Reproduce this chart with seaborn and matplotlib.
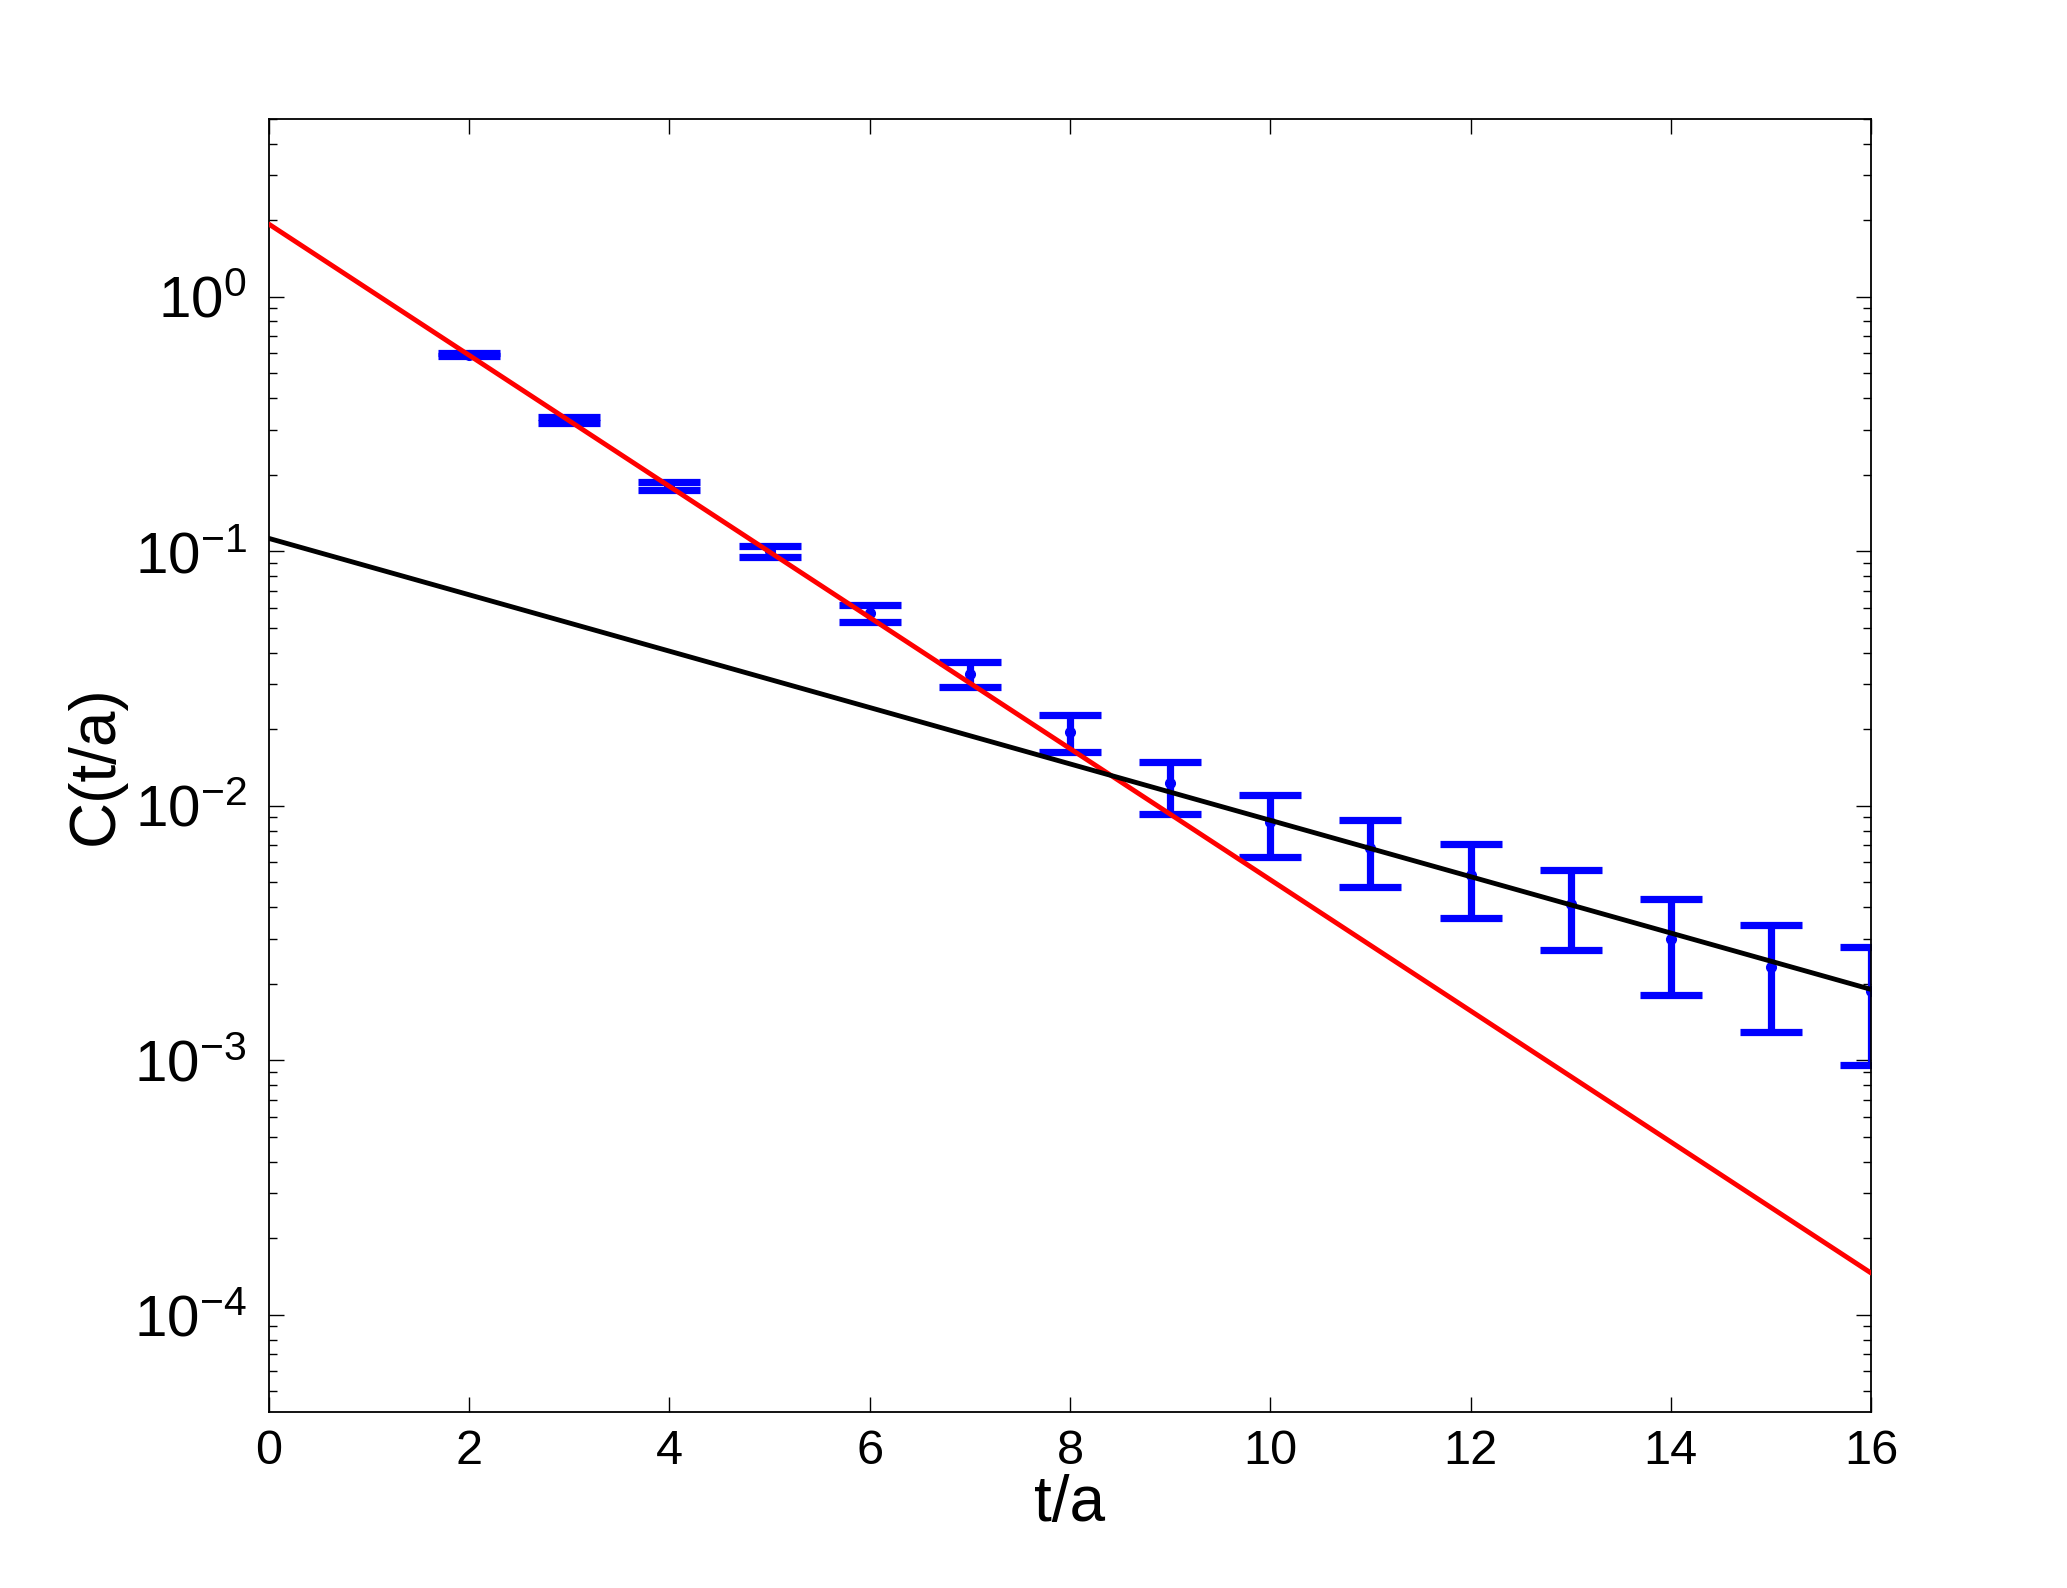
import matplotlib
matplotlib.use("Agg")
import matplotlib.pyplot as plt
import matplotlib.ticker as mticker
import numpy as np
import pandas as pd
import seaborn as sns

# correlator data
t_vals = [2, 3, 4, 5, 6, 7, 8, 9, 10, 11, 12, 13, 14, 15, 16]
c_vals = [0.592, 0.328, 0.180, 0.1004, 0.0573, 0.0331, 0.01953, 0.01225,
          0.00865, 0.0068, 0.00534, 0.00413, 0.00301, 0.00233, 0.001875]
c_upper = [0.600, 0.336, 0.1865, 0.1048, 0.0613, 0.0366, 0.0227, 0.01489,
           0.01102, 0.0088, 0.00705, 0.00562, 0.0043, 0.0034, 0.00279]
c_lower = [0.584, 0.320, 0.1735, 0.0949, 0.0527, 0.0292, 0.0163, 0.00933,
           0.0063, 0.00481, 0.00361, 0.00271, 0.0018, 0.00129, 0.000958]

# fit lines (end points)
fit_t = [0, 16]
red_fit = [1.93, 1.46e-4]
black_fit = [0.1124, 1.90e-3]

dataDF = pd.DataFrame({'t': t_vals, 'C': c_vals, 'up': c_upper, 'lo': c_lower})
fitDF = pd.DataFrame({'t': fit_t, 'red': red_fit, 'black': black_fit})

sns.set_theme(style="ticks")
plt.rcParams['font.family'] = ['Liberation Sans', 'DejaVu Sans']
plt.rcParams['mathtext.fontset'] = 'custom'
plt.rcParams['mathtext.rm'] = 'Liberation Sans'
plt.rcParams['mathtext.it'] = 'Liberation Sans:italic'
plt.rcParams['text.color'] = 'black'
plt.rcParams['axes.labelcolor'] = 'black'

fig = plt.figure(figsize=(20.67, 15.88), dpi=100)
ax = fig.add_axes([0.1301, 0.1108, 0.7751, 0.8143])

yerr = [dataDF['C'] - dataDF['lo'], dataDF['up'] - dataDF['C']]
ax.errorbar(dataDF['t'], dataDF['C'], yerr=yerr, fmt='.', color=(0, 0, 1),
            ms=14, elinewidth=5.2, capsize=22.3, capthick=5.2, zorder=2)

sns.lineplot(data=fitDF, x='t', y='red', color=(1, 0, 0), linewidth=3.5, ax=ax, zorder=3)
sns.lineplot(data=fitDF, x='t', y='black', color='black', linewidth=3.5, ax=ax, zorder=4)

ax.set_yscale('log')
ax.set_xlim(0, 16)
ax.set_ylim(4.15e-5, 5)
ax.set_xticks(range(0, 17, 2))
ax.xaxis.set_minor_locator(mticker.NullLocator())
ax.yaxis.set_major_locator(mticker.LogLocator(base=10, numticks=20))
ax.yaxis.set_minor_locator(mticker.LogLocator(base=10, subs=np.arange(2, 10), numticks=20))

ax.set_xlabel("t/a", fontsize=46, labelpad=0)
ax.set_ylabel("C(t/a)", fontsize=46, labelpad=6)

ax.tick_params(axis='both', which='both', direction='in', top=True, right=True,
               labelsize=35, colors='black')
ax.tick_params(axis='y', which='major', labelsize=42)
ax.tick_params(axis='both', which='major', length=11, width=1.0)
ax.tick_params(axis='y', which='minor', length=5.5, width=1.0)
ax.tick_params(axis='x', which='major', pad=12)
ax.tick_params(axis='y', which='major', pad=16)
for s in ax.spines.values():
    s.set_visible(True)
    s.set_linewidth(1.3)
    s.set_color('black')

fig.savefig('out.png', dpi=100)
